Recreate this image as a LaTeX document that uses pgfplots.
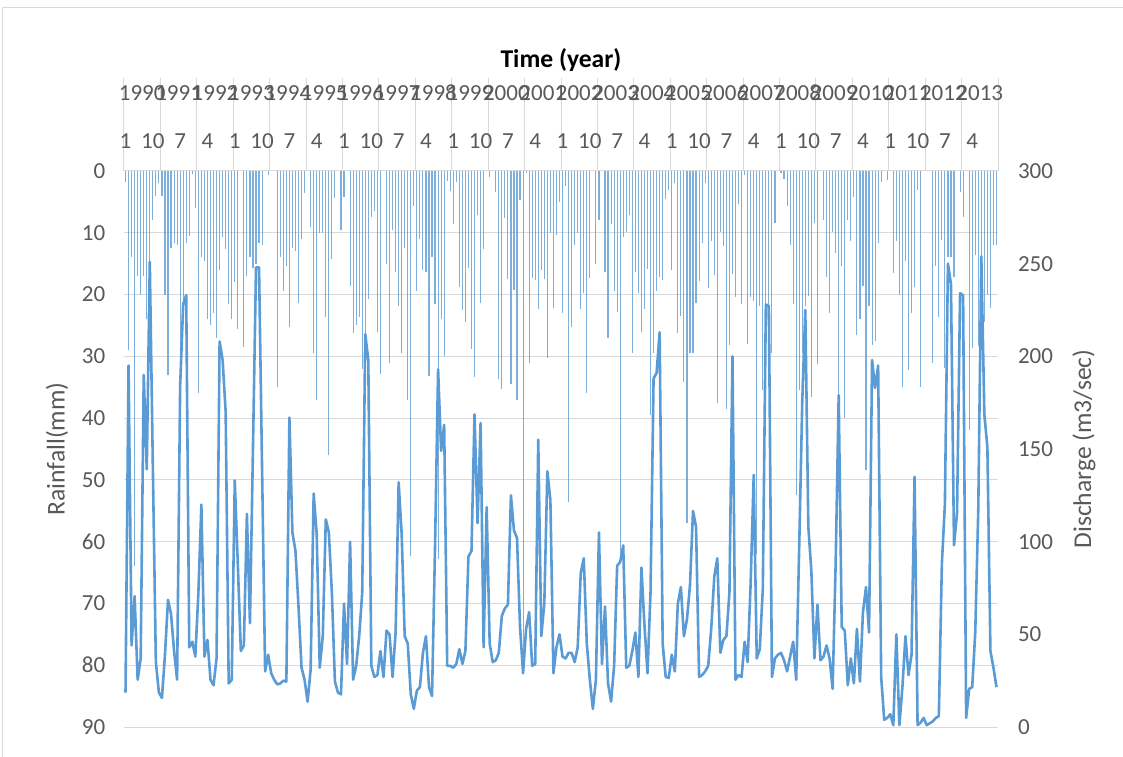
\documentclass[border=0pt]{standalone}
\usepackage{pgfplots}
\pgfplotsset{compat=1.18}
\usepackage{pgfplotstable}
\usepackage{fontspec}
\setmainfont{Carlito}
\definecolor{xlblue}{HTML}{5B9BD5}
\definecolor{xlgrid}{HTML}{D9D9D9}
\definecolor{xltext}{HTML}{595959}

% monthly series, Jan 1990 (m = 0) to Dec 2013 (m = 287)
% rain: monthly rainfall (mm), q: mean discharge (m3/sec)
\pgfplotstableread{
m rain q
0 1.8 18.6
1 29 195
2 14 44
3 64 70.6
4 17 25.5
5 20 37
6 17 190
7 24 139
8 22 251
9 8 141
10 4 35
11 2 18.6
12 4 15.7
13 20 39
14 33 68.6
15 12.5 61
16 11.6 41
17 12 25.5
18 35 184
19 21 228
20 11.6 233
21 10.6 43
22 0.5 46
23 6 38
24 36 72
25 14 120
26 14.5 38
27 24 47
28 25 25.5
29 23 22.5
30 27 37
31 16 208
32 10.7 198
33 12.6 170
34 21.5 23.5
35 24 25.5
36 18 133
37 25.5 88
38 0 41
39 28.5 44
40 17 115
41 14 56
42 15.7 151
43 15 248
44 11.6 248
45 12 139
46 0 30
47 0.6 39
48 0 29
49 0 25.5
50 35 23
51 14 23.5
52 19.4 25
53 15.4 24.5
54 25.3 167
55 12.5 105
56 13 95
57 21.3 65
58 11 32
59 3.6 25.5
60 0 13.7
61 9 31
62 29.5 126
63 37 104
64 10 32
65 10 49
66 23.6 112
67 46 105
68 14.2 72.5
69 4.4 24.5
70 0 18.6
71 9.5 17.6
72 4.2 66.6
73 0 34
74 18.6 100
75 26.3 25.5
76 25 33
77 23.6 49
78 32 72.5
79 27 212
80 20.8 198
81 7.5 33
82 6.5 27
83 26 28
84 32.8 41
85 0 27
86 15 52
87 31 50
88 9.5 27
89 16.4 51
90 21.8 132
91 29.4 104
92 12.5 49
93 37 45
94 62.3 17.6
95 5.7 9.8
96 19.4 19.6
97 11 21.5
98 16.1 40
99 16.4 49
100 33.2 21.5
101 14 16.7
102 21.5 98
103 62.8 193
104 24 149
105 30 163
106 1.6 33
107 3.2 33
108 8.5 32
109 1.8 34
110 18.8 42
111 22.5 34
112 24.4 41
113 15.7 92
114 28.8 95
115 33.4 168.6
116 7.2 110
117 21.3 164
118 12.6 43
119 0 118.6
120 1 45
121 0 35
122 3.4 36
123 33.6 40
124 35.3 60
125 7.6 64
126 17.5 66
127 34.5 125
128 19.2 106
129 37 102
130 4.7 54
131 80 29
132 0.4 53
133 31 62
134 17.3 33
135 17.6 34
136 22.4 155
137 16 49
138 17.5 66.6
139 30.2 138
140 10 122.5
141 22.2 29
142 10.4 43
143 5 50
144 23 38
145 2.5 37
146 53.6 40
147 25.3 40
148 12 35
149 10 43
150 22.4 83
151 19.8 91
152 36 45
153 17.3 25.5
154 0 9.8
155 15 25.5
156 8 105
157 0 34
158 16.3 65
159 27 23.5
160 8.6 13.7
161 19.5 33
162 22.8 87
163 63 89
164 10.7 98
165 9.8 32
166 7.2 33
167 29.5 41
168 16.3 51
169 19.8 27
170 26 86
171 22.4 55
172 15.9 29
173 39.5 72.5
174 29.5 188
175 19.5 191
176 17.2 213
177 17.6 45
178 4.5 27
179 3 26.5
180 16 39
181 1.9 30
182 26.3 66.6
183 23.5 75.5
184 34.2 49
185 57 58
186 29.5 76.4
187 29.5 116.6
188 21.3 108
189 17.8 27
190 11.6 28
191 2 30
192 19 33
193 11.3 53
194 16.9 81
195 37.5 91
196 9.8 40
197 12.2 47
198 38.6 49
199 28.2 72.5
200 16.6 200
201 20.4 25.5
202 5.3 28
203 21.6 27
204 0.7 46
205 28 35
206 20.4 78
207 21 136
208 62 37
209 21.9 42
210 35.4 74.5
211 21.6 228
212 22 227
213 29.5 27
214 8.4 37
215 0 39
216 0.4 40
217 1.3 36
218 5.7 30
219 12 38
220 21.6 46
221 52.5 25.5
222 35.4 98
223 29.5 176
224 21.9 225
225 20.2 108
226 36.6 84
227 8.4 37
228 31.2 66
229 0 36
230 8 38
231 17.2 44
232 23 37
233 9.8 20.6
234 13.2 88
235 36.6 179
236 15.4 54
237 40 52
238 8 22.5
239 11.3 37
240 4.2 23.5
241 26.6 53
242 24 24.5
243 18.6 62
244 48.4 75.5
245 21.9 51
246 28.2 198
247 27.5 183
248 11.6 195
249 1.8 27
250 0 3.9
251 1.4 4.9
252 0 6.9
253 16.5 1
254 11.3 50
255 20 1
256 35 21.5
257 14.5 49
258 32.2 28
259 23 39
260 18.8 135
261 3 1
262 35 2.4
263 0 4.9
264 0 1
265 0 2
266 31 3
267 15.3 4.9
268 23.6 5.9
269 11.2 88
270 31.9 120.5
271 14 250
272 14 239
273 17.2 98
274 0 115.6
275 3.4 234
276 7.5 233
277 0 4.9
278 41.9 20.6
279 28.6 21.5
280 13.6 51
281 28.4 117.6
282 14 254
283 24.4 168.6
284 20 151
285 22.2 41
286 11.9 32
287 12 21.5
}\hydro

\newcommand{\tickfont}{\fontsize{17.25}{20}\selectfont}
\newcommand{\titlefont}{\fontsize{19.2}{22}\selectfont}

\begin{document}
\begin{tikzpicture}
\useasboundingbox (-93pt,-21.75pt) rectangle (749.25pt,545.25pt);
% chart area border
\draw[xlgrid, line width=0.75pt] (-90.75pt,-40pt) -- (-90.75pt,539.25pt) -- (780pt,539.25pt);

% rainfall (left axis, hanging bars)
\begin{axis}[
  scale only axis, width=655.5pt, height=417pt,
  at={(0pt,0pt)}, anchor=south west,
  xmin=-0.5, xmax=287.5, ymin=0, ymax=90, y dir=reverse,
  axis line style={draw=none}, xtick=\empty,
  ytick={0,10,...,90}, ymajorgrids,
  grid style={xlgrid, line width=0.75pt},
  major tick length=0pt,
  /pgf/number format/assume math mode=true,
  tick label style={font=\tickfont, text=xltext},
  yticklabel style={anchor=east, xshift=-10.5pt},
  every axis y label/.style={at={(axis description cs:-0.0767,0.5)}, rotate=90, anchor=center},
  ylabel={Rainfall(mm)},
  ylabel style={font=\titlefont, text=xltext},
]
\addplot[ycomb, draw=xlblue, draw opacity=0.8, line width=0.85pt] table[x=m, y=rain] {\hydro};
\end{axis}

% discharge (right axis, line)
\begin{axis}[
  scale only axis, width=655.5pt, height=417pt,
  at={(0pt,0pt)}, anchor=south west,
  xmin=-0.5, xmax=287.5, ymin=0, ymax=300,
  axis line style={draw=none}, xtick=\empty,
  ytick={0,50,...,300}, yticklabel pos=right,
  major tick length=0pt,
  /pgf/number format/assume math mode=true,
  tick label style={font=\tickfont, text=xltext},
  yticklabel style={anchor=west, xshift=11.5pt},
  every axis y label/.style={at={(axis description cs:1.0984,0.5)}, rotate=90, anchor=center},
  ylabel={Discharge (m3/sec)},
  ylabel style={font=\titlefont, text=xltext},
]
\addplot[draw=xlblue, line width=1.95pt, line join=round] table[x=m, y=q] {\hydro};
\end{axis}

% time axis: year groups with dividers
\begin{axis}[
  scale only axis, width=655.5pt, height=69.75pt,
  at={(0pt,417pt)}, anchor=south west,
  xmin=-0.5, xmax=287.5, ymin=0, ymax=1,
  axis line style={draw=none}, ytick=\empty,
  xtick={5.5,17.5,...,281.5},
  xticklabels={1990,1991,1992,1993,1994,1995,1996,1997,1998,1999,2000,2001,2002,2003,2004,2005,2006,2007,2008,2009,2010,2011,2012,2013},
  major tick length=0pt,
  minor xtick={-0.5,11.5,...,287.5}, minor tick length=0pt,
  xminorgrids, minor grid style={xlgrid, line width=0.75pt},
  xticklabel style={font=\tickfont, text=xltext, anchor=center, yshift=58.5pt},
]
\end{axis}

% time axis: month labels every nine months
\begin{axis}[
  scale only axis, width=655.5pt, height=69.75pt,
  at={(0pt,417pt)}, anchor=south west,
  xmin=-0.5, xmax=287.5, ymin=0, ymax=1,
  axis line style={draw=none}, ytick=\empty,
  xtick={0,9,...,279},
  xticklabels={1,10,7,4,1,10,7,4,1,10,7,4,1,10,7,4,1,10,7,4,1,10,7,4,1,10,7,4,1,10,7,4},
  major tick length=0pt,
  xticklabel style={font=\tickfont, text=xltext, anchor=center, yshift=22.5pt},
]
\end{axis}

\node[font=\bfseries\titlefont, anchor=center] at (327.75pt,500.25pt) {Time (year)};
\end{tikzpicture}
\end{document}
